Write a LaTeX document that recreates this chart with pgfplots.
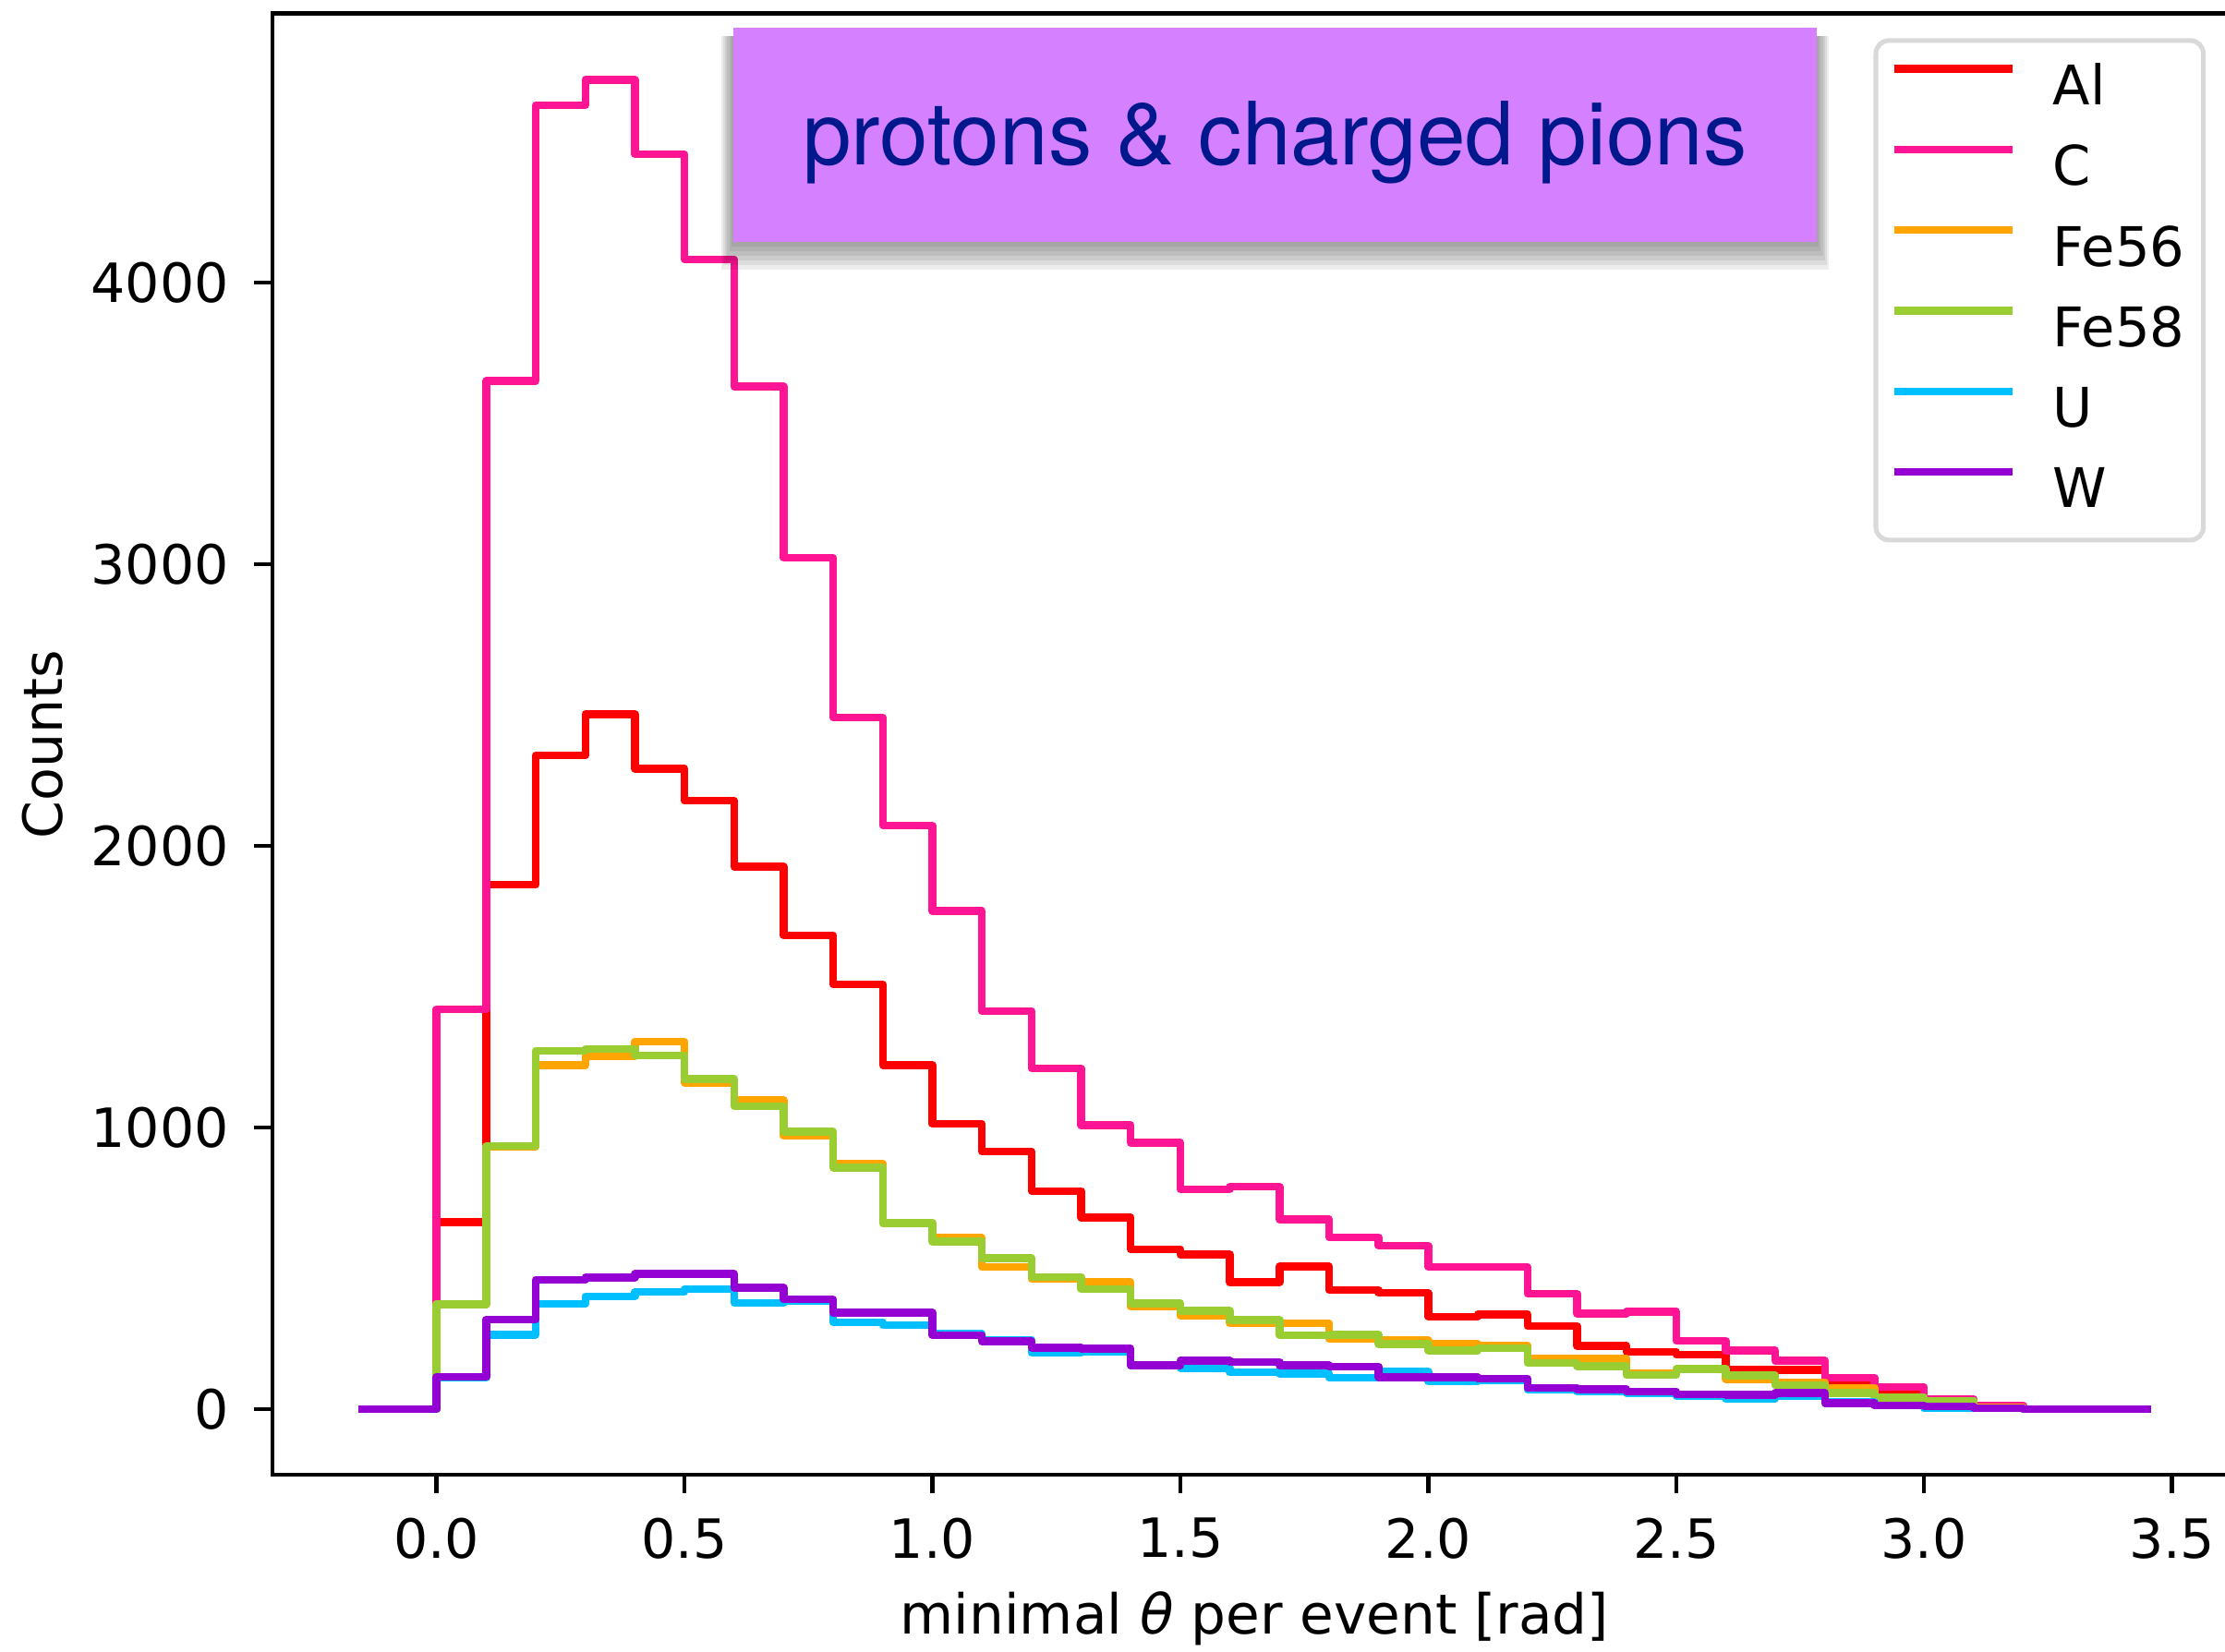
\documentclass[border=0pt]{standalone}
\usepackage{fontspec}
\setmainfont{DejaVu Sans}
\newfontfamily\heros{TeX Gyre Heros}
\usepackage{pgfplots}
\usepackage{pgfplotstable}
\pgfplotsset{compat=1.18}
\usetikzlibrary{calc}

\definecolor{cAl}{HTML}{FF0000}
\definecolor{cC}{HTML}{FF1493}
\definecolor{cFeA}{HTML}{FFA500}
\definecolor{cFeB}{HTML}{9ACD32}
\definecolor{cU}{HTML}{00BFFF}
\definecolor{cW}{HTML}{9400D3}
\definecolor{boxfill}{HTML}{D580FF}
\definecolor{boxtext}{RGB}{0,24,140}

% bin left edges (width 0.1), counts per target
\pgfplotstableread{
x      Al   C     Fe56  Fe58  U    W
-0.157 0    0     0     0     0    0
0.0    663  1420  372   372   110  114
0.1    1861 3650  930   933   264  318
0.2    2320 4630  1221  1272  374  459
0.3    2467 4720  1253  1279  400  467
0.4    2273 4455  1305  1256  415  479
0.5    2160 4082  1159  1172  426  479
0.6    1925 3630  1096  1074  377  430
0.7    1682 3022  970   984   385  389
0.8    1507 2455  872   857   308  342
0.9    1221 2072  660   660   297  342
1.0    1012 1768  607   594   268  262
1.1    914  1412  504   535   245  240
1.2    774  1209  462   469   199  218
1.3    680  1008  450   425   205  214
1.4    567  946   364   375   155  155
1.5    548  780   331   349   145  171
1.6    450  789   305   316   130  167
1.7    506  673   305   262   126  155
1.8    422  610   249   264   111  151
1.9    412  579   243   230   132  113
2.0    328  504   230   208   98   113
2.1    336  504   225   215   102  108
2.2    294  409   180   163   68   75
2.3    224  339   180   152   62   70
2.4    202  346   125   120   56   62
2.5    193  242   140   142   46   51
2.6    139  207   106   119   37   50
2.7    139  171   95    84    46   57
2.8    90   111   75    57    24   21
2.9    62   78    40    40    13   13
3.0    30   35    29    29    3    10
3.1    10   13    5     2     3    3
3.2    0    0     0     0     0    0
3.457  0    0     0     0     0    0
}\hist

\begin{document}
\begin{tikzpicture}
\begin{axis}[
  scale only axis,
  width=377.8pt, height=281.1pt,
  xmin=-0.331, xmax=3.631,
  ymin=-234, ymax=4955,
  axis line style={line width=0.8pt},
  tick align=outside, tick pos=left,
  major tick length=3.5pt,
  every tick/.style={black, line width=0.8pt},
  xtick={0,0.5,1,1.5,2,2.5,3,3.5},
  xticklabels={0.0,0.5,1.0,1.5,2.0,2.5,3.0,3.5},
  ytick={0,1000,2000,3000,4000},
  yticklabels={0,1000,2000,3000,4000},
  /pgf/number format/assume math mode=true,
  tick label style={font=\fontsize{10.4}{12}\selectfont},
  xticklabel style={anchor=north, inner sep=0pt, yshift=-4.6pt},
  yticklabel style={anchor=east, inner sep=0pt, xshift=-4.7pt},
  xlabel={minimal {\itshape θ} per event [rad]},
  ylabel={Counts},
  xlabel style={font=\fontsize{10.6}{12}\selectfont, at={(axis description cs:0.5,-0.1089)}, anchor=base, inner sep=0pt},
  ylabel style={font=\fontsize{10.4}{12}\selectfont, at={(axis description cs:-0.1059,0.5)}, anchor=south, inner sep=0pt},
  every axis plot/.append style={const plot, line width=1.5pt, line join=round, no markers},
  legend style={at={(axis description cs:0.9841,0.9831)}, anchor=north east,
    draw=black!15, line width=0.9pt, rounded corners=2.5pt, fill=white,
    inner xsep=3.6pt, inner ysep=4.7pt, row sep=6.35pt, column sep=7.9pt,
    font=\fontsize{10.5}{12}\selectfont,
    nodes={inner sep=0pt, text height=7.65pt, text depth=1.5pt}},
  legend cell align=left,
  legend image code/.code={\draw[#1, sharp plot, line cap=rect] (0.75pt,3.83pt) -- (21.85pt,3.83pt);},
]
\addplot[cAl]  table[x=x, y=Al]   {\hist};
\addlegendentry{Al}
\addplot[cC]   table[x=x, y=C]    {\hist};
\addlegendentry{C}
\addplot[cFeA] table[x=x, y=Fe56] {\hist};
\addlegendentry{Fe56}
\addplot[cFeB] table[x=x, y=Fe58] {\hist};
\addlegendentry{Fe58}
\addplot[cU]   table[x=x, y=U]    {\hist};
\addlegendentry{U}
\addplot[cW]   table[x=x, y=W]    {\hist};
\addlegendentry{W}
\coordinate (bc) at (axis description cs:0.5103,0.9171);
\end{axis}
% label box with a soft shadow
\foreach \i in {1,...,6} {
  \fill[black, opacity=0.07]
    ($(bc)+(-104.15pt-0.4*\i pt,-20.65pt-0.9*\i pt)$) rectangle
    ($(bc)+(104.15pt+0.4*\i pt,20.65pt-1.6pt)$);
}
\fill[boxfill] ($(bc)+(-104.15pt,-20.65pt)$) rectangle ($(bc)+(104.15pt,20.65pt)$);
\node[anchor=base, inner sep=0pt, text=boxtext, font=\heros\fontsize{16.8}{18}\selectfont]
  at ($(bc)+(0,-5.8pt)$) {protons \& charged pions};
\pgfresetboundingbox
\path[use as bounding box] ($(current axis.south west)+(-52.4pt,-33.9pt)$)
  rectangle ($(current axis.south west)+(375.5pt,283.7pt)$);
\end{tikzpicture}
\end{document}
